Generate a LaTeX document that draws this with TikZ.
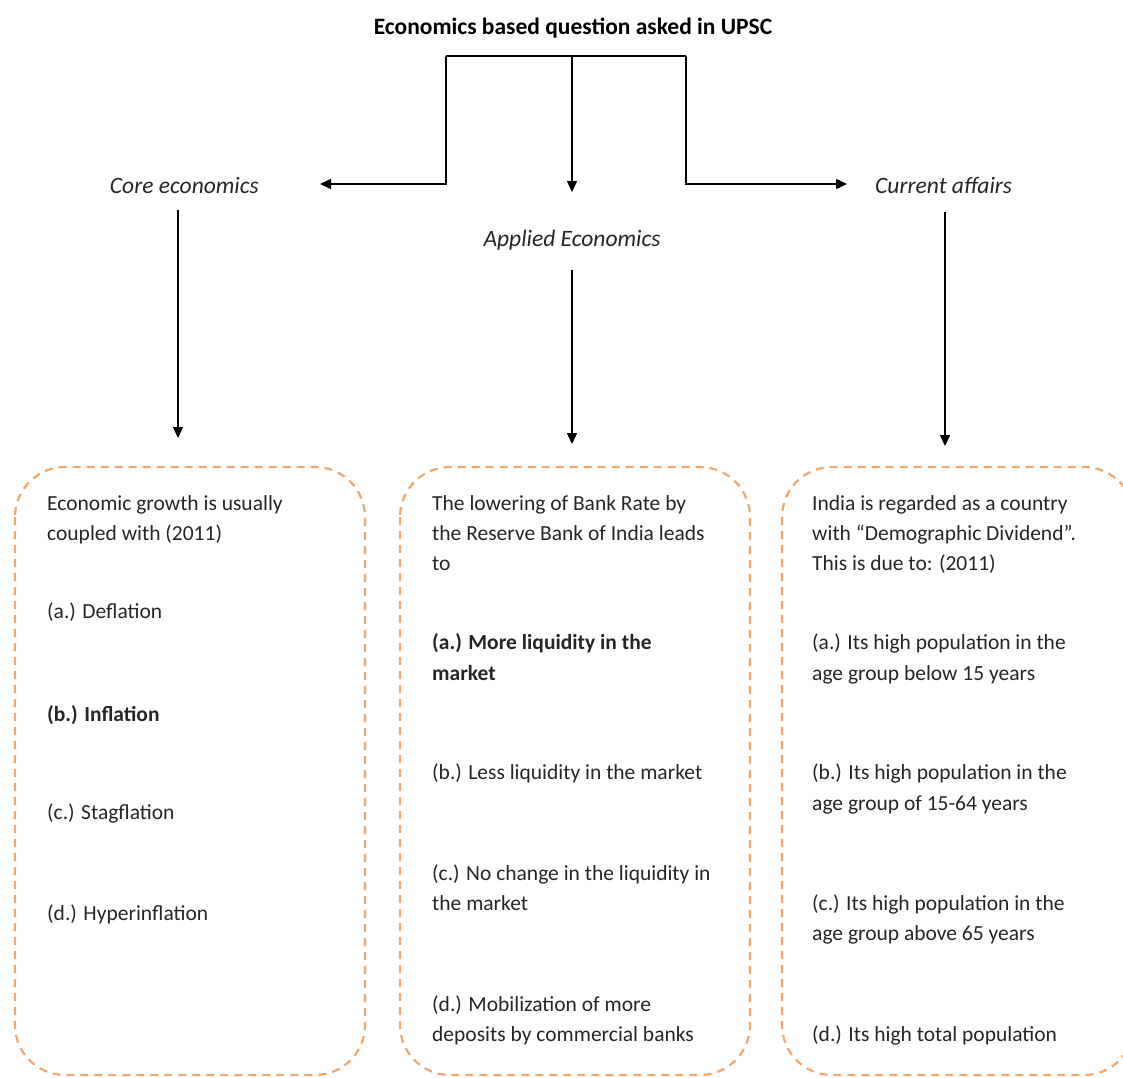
\documentclass[tikz,border=0pt]{standalone}
\usepackage{fontspec}
\setmainfont{Carlito}
\usetikzlibrary{arrows.meta}
\definecolor{boxc}{RGB}{240,168,110}
\definecolor{txtc}{RGB}{38,38,38}
\newcommand\bodyf{\fontsize{21.5}{30}\selectfont}
\newcommand\lblf{\fontsize{23.5}{30}\selectfont}
\begin{document}
\begin{tikzpicture}[x=1pt,y=-1pt,
  txt/.style={anchor=base west,inner sep=0pt,font=\bodyf,text=txtc},
  lbl/.style={inner sep=0pt,font=\lblf\itshape,text=txtc},
  qbox/.style={draw=boxc,line width=2.2pt,dash pattern=on 8pt off 6pt,rounded corners=50pt},
  arr/.style={draw=black,line width=1.4pt,-{Triangle[length=11pt,width=10pt]}},
  ln/.style={draw=black,line width=1.4pt}]
\useasboundingbox (0,0) rectangle (1123,1077);
\fill[white] (0,0) rectangle (1123,1077);

% title and labels
\node[inner sep=0pt,anchor=base,font=\fontsize{23.5}{28}\selectfont\bfseries,text=black] (title) at (573,34) {Economics based question asked in UPSC};
\node[lbl,anchor=base east] (core) at (259,193) {Core economics};
\node[lbl,anchor=base] (applied) at (572,246) {Applied Economics};
\node[lbl,anchor=base west] (curr) at (875,193) {Current affairs};

% connectors
\coordinate (jl) at (446,56);
\coordinate (jc) at (572,56);
\coordinate (jr) at (686,56);
\coordinate (tl) at (320,184);
\coordinate (tc) at (572,192);
\coordinate (tr) at (847,184);
\draw[ln] (jl) -- (jr);
\draw[arr] (jl) |- (tl);
\draw[arr] (jc) -- (tc);
\draw[arr] (jr) |- (tr);

\coordinate (cs) at (178,210);
\coordinate (ce) at (178,438);
\coordinate (as) at (572,270);
\coordinate (ae) at (572,444);
\coordinate (rs) at (945,212);
\coordinate (re) at (945,446);
\draw[arr] (cs) -- (ce);
\draw[arr] (as) -- (ae);
\draw[arr] (rs) -- (re);

% boxes
\begin{scope}
\clip (0,0) rectangle (1123,1077);
\draw[qbox] (15,467) rectangle (365,1075);
\draw[qbox] (400,467) rectangle (750,1075);
\draw[qbox] (782,467) rectangle (1134,1075);
\end{scope}

% left box text
\node[txt] (l1) at (47,510) {Economic growth is usually};
\node[txt] (l2) at (47,540) {coupled with (2011)};
\node[txt] (l3) at (47,618) {(a.) Deflation};
\node[txt,font=\bodyf\bfseries] (l4) at (47,721) {(b.) Inflation};
\node[txt] (l5) at (47,819) {(c.) Stagflation};
\node[txt] (l6) at (47,920) {(d.) Hyperinflation};

% middle box text
\node[txt] (m1) at (432,510) {The lowering of Bank Rate by};
\node[txt] (m2) at (432,540) {the Reserve Bank of India leads};
\node[txt] (m3) at (432,570) {to};
\node[txt,font=\bodyf\bfseries] (m4) at (432,649) {(a.) More liquidity in the};
\node[txt,font=\bodyf\bfseries] (m5) at (432,680) {market};
\node[txt] (m6) at (432,779) {(b.) Less liquidity in the market};
\node[txt] (m7) at (432,880) {(c.) No change in the liquidity in};
\node[txt] (m8) at (432,910) {the market};
\node[txt] (m9) at (432,1011) {(d.) Mobilization of more};
\node[txt] (m10) at (432,1041) {deposits by commercial banks};

% right box text
\node[txt] (r1) at (812,510) {India is regarded as a country};
\node[txt] (r2) at (812,540) {with “Demographic Dividend”.};
\node[txt] (r3) at (812,570) {This is due to: (2011)};
\node[txt] (r4) at (812,649) {(a.) Its high population in the};
\node[txt] (r5) at (812,680) {age group below 15 years};
\node[txt] (r6) at (812,779) {(b.) Its high population in the};
\node[txt] (r7) at (812,810) {age group of 15-64 years};
\node[txt] (r8) at (812,910) {(c.) Its high population in the};
\node[txt] (r9) at (812,940) {age group above 65 years};
\node[txt] (r10) at (812,1041) {(d.) Its high total population};
\end{tikzpicture}
\end{document}
